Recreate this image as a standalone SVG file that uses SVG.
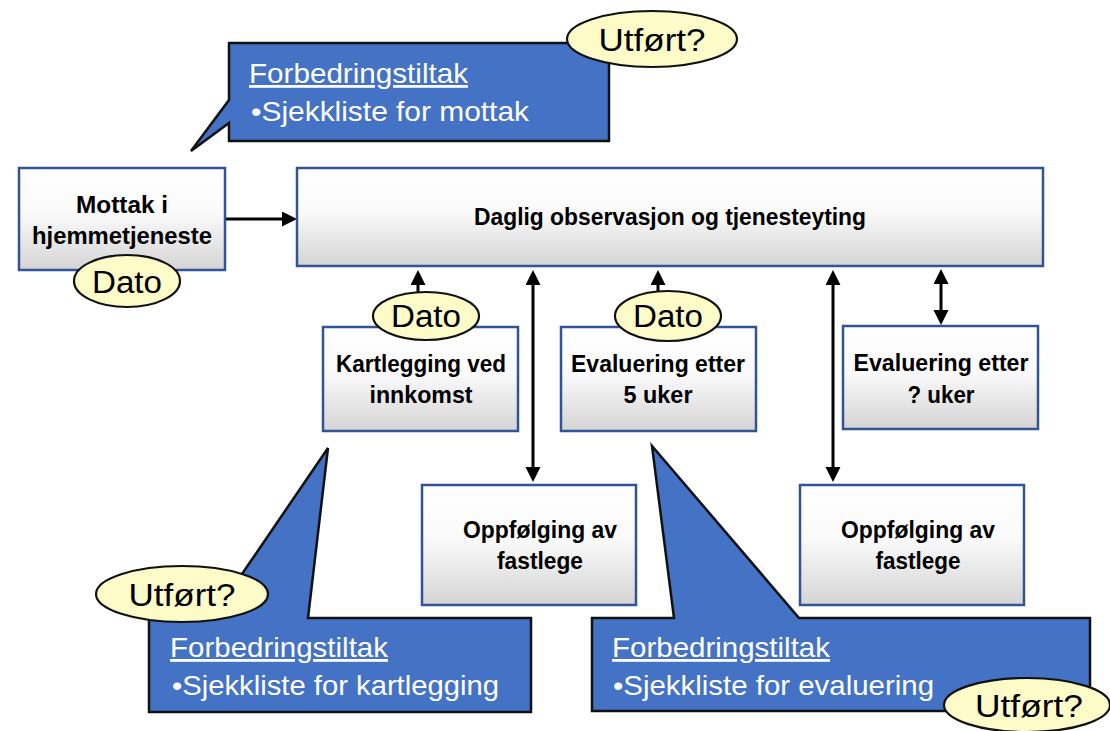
<svg xmlns="http://www.w3.org/2000/svg" width="1110" height="731" viewBox="0 0 1110 731">
<defs>
<linearGradient id="boxg" x1="0" y1="0" x2="0" y2="1">
<stop offset="0" stop-color="#ffffff"/>
<stop offset="0.45" stop-color="#fafafa"/>
<stop offset="1" stop-color="#d4d4d4"/>
</linearGradient>
<marker id="ah" markerUnits="userSpaceOnUse" markerWidth="16" markerHeight="16" refX="1" refY="7.5" orient="auto-start-reverse" viewBox="0 0 16 16">
<path d="M0,0 L15,7.5 L0,15 Z" fill="#000"/>
</marker>
<style>
.box{fill:url(#boxg);stroke:#2f5597;stroke-width:2.5}
.bt{font-family:"Liberation Sans",Arial,sans-serif;font-weight:bold;font-size:23px;fill:#000;text-anchor:middle}
.call{fill:#4472c4;stroke:#111;stroke-width:2.5;stroke-linejoin:miter}
.ct{font-family:"Liberation Sans",Arial,sans-serif;font-size:28px;fill:#fff}
.ell{fill:#fdfbc8;stroke:#111;stroke-width:2.2}
.et{font-family:"Liberation Sans",Arial,sans-serif;font-size:31px;fill:#000;text-anchor:middle}
.con{stroke:#000;stroke-width:3;fill:none}
</style>
</defs>

<g id="callout-mottak">
<path class="call" d="M229,43 H609 V141 H229 V123 L191,151 L229,100 Z"/>
<text class="ct" x="249" y="83" textLength="219" lengthAdjust="spacingAndGlyphs" text-decoration="underline">Forbedringstiltak</text>
<text class="ct" x="251" y="121" textLength="278" lengthAdjust="spacingAndGlyphs">•Sjekkliste for mottak</text>
</g>
<g id="utfort-top">
<ellipse class="ell" cx="652" cy="39" rx="85" ry="28"/>
<text class="et" x="652" y="51" textLength="107" lengthAdjust="spacingAndGlyphs">Utført?</text>
</g>

<g id="connectors">
<line class="con" x1="225" y1="219" x2="283" y2="219" marker-end="url(#ah)"/>
<line class="con" x1="418" y1="293" x2="418" y2="284" marker-end="url(#ah)"/>
<line class="con" x1="658" y1="292" x2="658" y2="284" marker-end="url(#ah)"/>
<line class="con" x1="533" y1="284" x2="533" y2="468" marker-start="url(#ah)" marker-end="url(#ah)"/>
<line class="con" x1="833" y1="284" x2="833" y2="468" marker-start="url(#ah)" marker-end="url(#ah)"/>
<line class="con" x1="941" y1="283" x2="941" y2="311" marker-start="url(#ah)" marker-end="url(#ah)"/>
</g>

<g id="mottak">
<rect class="box" x="19" y="168" width="206" height="102"/>
<text class="bt" x="122" y="213" textLength="92" lengthAdjust="spacingAndGlyphs">Mottak i</text>
<text class="bt" x="122" y="244" textLength="180" lengthAdjust="spacingAndGlyphs">hjemmetjeneste</text>
</g>
<g id="dato-mottak">
<ellipse class="ell" cx="127" cy="281" rx="53" ry="26"/>
<text class="et" x="127" y="293" textLength="70" lengthAdjust="spacingAndGlyphs">Dato</text>
</g>

<g id="daglig">
<rect class="box" x="297" y="168" width="746" height="98"/>
<text class="bt" x="670" y="225" textLength="392" lengthAdjust="spacingAndGlyphs">Daglig observasjon og tjenesteyting</text>
</g>

<g id="kartlegging">
<rect class="box" x="323" y="327" width="195" height="104"/>
<text class="bt" x="421" y="372" textLength="170" lengthAdjust="spacingAndGlyphs">Kartlegging ved</text>
<text class="bt" x="421" y="403" textLength="103" lengthAdjust="spacingAndGlyphs">innkomst</text>
</g>
<g id="dato-kartlegging">
<ellipse class="ell" cx="426" cy="316" rx="53" ry="24"/>
<text class="et" x="426" y="327" textLength="70" lengthAdjust="spacingAndGlyphs">Dato</text>
</g>

<g id="evaluering-5">
<rect class="box" x="561" y="327" width="195" height="104"/>
<text class="bt" x="658" y="372" textLength="174" lengthAdjust="spacingAndGlyphs">Evaluering etter</text>
<text class="bt" x="658" y="403" textLength="69" lengthAdjust="spacingAndGlyphs">5 uker</text>
</g>
<g id="dato-evaluering">
<ellipse class="ell" cx="668" cy="316" rx="53" ry="25"/>
<text class="et" x="668" y="327" textLength="70" lengthAdjust="spacingAndGlyphs">Dato</text>
</g>

<g id="evaluering-q">
<rect class="box" x="843" y="326" width="195" height="103"/>
<text class="bt" x="941" y="371" textLength="175" lengthAdjust="spacingAndGlyphs">Evaluering etter</text>
<text class="bt" x="941" y="403" textLength="67" lengthAdjust="spacingAndGlyphs">? uker</text>
</g>

<g id="oppfolging-1">
<rect class="box" x="422" y="485" width="214" height="120"/>
<text class="bt" x="540" y="538" textLength="154" lengthAdjust="spacingAndGlyphs">Oppfølging av</text>
<text class="bt" x="540" y="569" textLength="86" lengthAdjust="spacingAndGlyphs">fastlege</text>
</g>

<g id="oppfolging-2">
<rect class="box" x="800" y="485" width="224" height="120"/>
<text class="bt" x="918" y="538" textLength="154" lengthAdjust="spacingAndGlyphs">Oppfølging av</text>
<text class="bt" x="918" y="569" textLength="85" lengthAdjust="spacingAndGlyphs">fastlege</text>
</g>

<g id="callout-kartlegging">
<path class="call" d="M149,618 H212 L328,448 L308,618 H531 V712 H149 Z"/>
<text class="ct" x="170" y="657" textLength="218" lengthAdjust="spacingAndGlyphs" text-decoration="underline">Forbedringstiltak</text>
<text class="ct" x="172" y="695" textLength="327" lengthAdjust="spacingAndGlyphs">•Sjekkliste for kartlegging</text>
</g>
<g id="utfort-kartlegging">
<ellipse class="ell" cx="182" cy="594" rx="86" ry="28"/>
<text class="et" x="182" y="606" textLength="107" lengthAdjust="spacingAndGlyphs">Utført?</text>
</g>

<g id="callout-evaluering">
<path class="call" d="M592,618 H674 L652,446 L799,618 H1090 V711 H592 Z"/>
<text class="ct" x="612" y="657" textLength="218" lengthAdjust="spacingAndGlyphs" text-decoration="underline">Forbedringstiltak</text>
<text class="ct" x="613" y="695" textLength="321" lengthAdjust="spacingAndGlyphs">•Sjekkliste for evaluering</text>
</g>
<g id="utfort-evaluering">
<ellipse class="ell" cx="1027" cy="705" rx="83" ry="27"/>
<text class="et" x="1029" y="717" textLength="108" lengthAdjust="spacingAndGlyphs">Utført?</text>
</g>
</svg>
